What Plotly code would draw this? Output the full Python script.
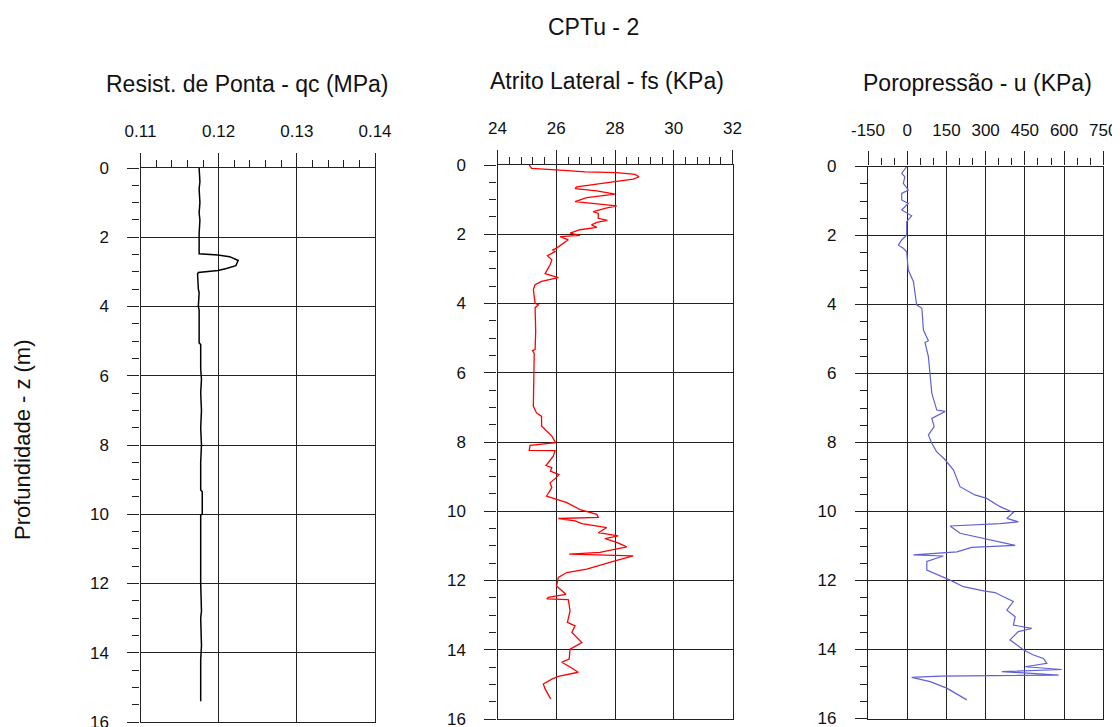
import plotly.graph_objects as go

# ---------------- data ----------------
qc_depth = [0.0, 0.4, 0.6, 1.0, 1.3, 1.5, 1.9, 2.48, 2.51, 2.56, 2.67, 2.82, 2.9, 2.96,
            3.02, 3.06, 3.5, 3.6, 4.0, 4.1, 5.05, 5.1, 5.8, 6.1, 6.5, 7.0, 7.5, 8.0, 8.5,
            9.3, 9.35, 10.0, 10.02, 11.0, 12.0, 12.8, 13.0, 13.8, 14.2, 15.0, 15.4]
qc_values = [0.1175, 0.1176, 0.1175, 0.1176, 0.1175, 0.1176, 0.1175, 0.1175, 0.1199, 0.1214,
             0.1225, 0.1222, 0.1210, 0.1199, 0.1174, 0.1173, 0.1174, 0.1175, 0.1174, 0.1175,
             0.1175, 0.1177, 0.1177, 0.1178, 0.1177, 0.1178, 0.1177, 0.1178, 0.1177, 0.1177,
             0.1179, 0.1179, 0.1177, 0.1177, 0.1177, 0.1178, 0.1177, 0.1178, 0.1177, 0.1177,
             0.1177]

fs_depth = [0.00, 0.10, 0.15, 0.20, 0.22, 0.27, 0.34, 0.41, 0.47, 0.63, 0.68, 0.75, 0.84,
            0.94, 1.06, 1.10, 1.18, 1.25, 1.35, 1.40, 1.54, 1.60, 1.66, 1.73, 1.80, 1.87,
            1.97, 2.03, 2.07, 2.16, 2.30, 2.40, 2.45, 2.50, 2.62, 2.74, 2.88, 3.14, 3.25,
            3.36, 3.46, 3.60, 3.99, 4.04, 4.12, 4.80, 5.33, 5.36, 5.45, 6.30, 6.97, 7.16,
            7.26, 7.54, 7.69, 7.83, 8.02, 8.10, 8.24, 8.25, 8.41, 8.68, 8.74, 8.84, 8.94,
            9.03, 9.18, 9.32, 9.56, 9.66, 9.75, 9.95, 10.09, 10.18, 10.21, 10.28, 10.36,
            10.47, 10.62, 10.71, 10.79, 10.90, 11.03, 11.19, 11.24, 11.29, 11.43, 11.67,
            11.77, 11.91, 12.16, 12.40, 12.49, 12.53, 12.55, 12.88, 13.21, 13.31, 13.50,
            13.79, 13.98, 14.27, 14.36, 14.50, 14.65, 14.77, 14.85, 14.99, 15.13, 15.42]
fs_values = [25.08, 25.16, 26.13, 26.98, 28.06, 28.68, 28.82, 28.62, 28.06, 26.70, 26.64,
             27.38, 28.00, 27.04, 26.64, 27.15, 28.06, 27.66, 27.26, 27.43, 27.43, 27.74,
             27.38, 27.20, 27.38, 26.81, 26.47, 26.81, 26.13, 26.41, 26.20, 26.01, 25.88,
             25.96, 25.70, 25.85, 25.79, 25.62, 26.07, 25.50, 25.28, 25.22, 25.28, 25.39,
             25.28, 25.30, 25.28, 25.19, 25.25, 25.22, 25.22, 25.33, 25.50, 25.50, 25.67,
             25.85, 25.98, 25.11, 25.08, 25.96, 25.90, 25.65, 25.85, 25.80, 26.09, 26.00,
             25.79, 25.85, 25.67, 26.01, 26.36, 26.81, 27.38, 27.43, 26.07, 26.64, 26.87,
             27.72, 27.43, 28.11, 27.66, 28.06, 28.40, 27.49, 26.44, 28.62, 28.00, 27.04,
             26.36, 26.07, 26.01, 26.33, 25.73, 25.68, 26.41, 26.47, 26.38, 26.64, 26.53,
             26.87, 26.47, 26.44, 26.19, 26.47, 26.75, 26.07, 25.85, 25.56, 25.62, 25.81]

u_depth = [0.00, 0.20, 0.30, 0.49, 0.68, 0.78, 0.97, 1.07, 1.26, 1.43, 1.60, 1.99, 2.13,
           2.28, 2.37, 2.47, 3.00, 3.14, 3.34, 3.68, 4.01, 4.11, 4.74, 5.05, 5.10, 5.51,
           6.09, 6.57, 7.06, 7.10, 7.30, 7.54, 7.78, 8.02, 8.27, 8.50, 8.80, 9.28, 9.52,
           9.62, 9.86, 10.03, 10.20, 10.30, 10.35, 10.42, 10.63, 10.78, 10.92, 10.98,
           11.04, 11.17, 11.26, 11.29, 11.45, 11.70, 11.99, 12.18, 12.30, 12.35, 12.47,
           12.61, 12.86, 13.05, 13.29, 13.39, 13.48, 13.72, 14.01, 14.16, 14.26, 14.40,
           14.50, 14.58, 14.64, 14.74, 14.77, 14.81, 14.93, 15.12, 15.46]
u_values = [-2, -21, -9, -15, 4, -21, -21, 4, -21, 17, -2, -2, -21, -34, -15, -2, 4, 11,
            24, 30, 36, 56, 62, 81, 68, 81, 88, 94, 113, 145, 94, 103, 81, 94, 113, 145,
            177, 202, 259, 304, 355, 406, 381, 425, 355, 164, 202, 298, 374, 413, 247,
            190, 24, 138, 75, 75, 164, 215, 292, 336, 368, 406, 381, 413, 406, 476, 425,
            393, 444, 483, 521, 534, 451, 591, 362, 579, 126, 17, 88, 151, 228]

qc_ticks = [0.11, 0.12, 0.13, 0.14]
qc_tick_text = ["0.11", "0.12", "0.13", "0.14"]
fs_ticks = [24, 26, 28, 30, 32]
fs_tick_text = ["24", "26", "28", "30", "32"]
u_ticks = [-150, 0, 150, 300, 450, 600, 750]
u_tick_text = ["-150", "0", "150", "300", "450", "600", "750"]
depth_ticks = [0, 2, 4, 6, 8, 10, 12, 14, 16]
depth_tick_text = ["0", "2", "4", "6", "8", "10", "12", "14", "16"]

main_title = "CPTu - 2"
panel_titles = ["Resist. de Ponta - qc (MPa)", "Atrito Lateral - fs (KPa)", "Poropressão - u (KPa)"]
depth_title = "Profundidade - z (m)"

# ---------------- figure ----------------
# the page body has an 8 px margin, so the figure is drawn 8 px smaller and offset
OFF = 8
W, H = 1120 - OFF, 727 - OFF
LINE = "#222222"
TXT = "#111111"
TICKFONT = dict(family="Liberation Sans, Arial, sans-serif", size=17, color=TXT)
TITLEFONT = dict(family="Liberation Sans, Arial, sans-serif", size=23, color=TXT)
YTITLEFONT = dict(family="Liberation Sans, Arial, sans-serif", size=22, color=TXT)

fig = go.Figure()
fig.add_trace(go.Scatter(x=qc_values, y=qc_depth, mode="lines", line=dict(color="black", width=1.5),
                         xaxis="x", yaxis="y", showlegend=False))
fig.add_trace(go.Scatter(x=fs_values, y=fs_depth, mode="lines", line=dict(color="#FF0000", width=1.3),
                         xaxis="x2", yaxis="y2", showlegend=False))
fig.add_trace(go.Scatter(x=u_values, y=u_depth, mode="lines", line=dict(color="#6060D8", width=1.2),
                         xaxis="x3", yaxis="y3", showlegend=False))

def px_x(p):
    return (p - OFF) / W

def px_y(p):
    return 1 - (p - OFF) / H

panels = [
    ((140.5, 375.0), (168.0, 722.0), [0.11, 0.14], qc_ticks, qc_tick_text, 0.002, 0.11),
    ((497.5, 732.5), (165.0, 719.0), [24, 32], fs_ticks, fs_tick_text, 0.4, 24),
    ((868.0, 1103.3), (166.5, 718.5), [-150, 750], u_ticks, u_tick_text, 50, -150),
]

layout = dict(
    width=W, height=H,
    margin=dict(l=0, r=0, t=0, b=0, pad=0, autoexpand=False),
    paper_bgcolor="white", plot_bgcolor="white",
    showlegend=False,
)

for i, (xd, yd, xr, tv, tt, mdt, m0) in enumerate(panels):
    sx = "" if i == 0 else str(i + 1)
    layout["xaxis" + sx] = dict(
        domain=[px_x(xd[0]), px_x(xd[1])],
        range=xr, autorange=False, side="top", anchor="y" + sx, automargin=False,
        tickvals=tv, ticktext=tt, ticks="outside", ticklen=14, tickwidth=1.4, tickcolor=LINE,
        ticklabelstandoff=9, ticklabeloverflow="allow",
        minor=dict(ticks="outside", ticklen=7, tickwidth=1.2, tickcolor=LINE, dtick=mdt, tick0=m0, showgrid=False),
        showgrid=True, gridcolor=LINE, gridwidth=1.3,
        showline=True, linecolor=LINE, linewidth=1.4, mirror=True,
        zeroline=False, tickfont=TICKFONT, fixedrange=True,
    )
    layout["yaxis" + sx] = dict(
        domain=[px_y(yd[1]), px_y(yd[0])],
        range=[16, 0], autorange=False, anchor="x" + sx, automargin=False,
        tickvals=depth_ticks, ticktext=depth_tick_text,
        ticks="outside", ticklen=12, tickwidth=1.4, tickcolor=LINE,
        ticklabelstandoff=15, ticklabeloverflow="allow",
        minor=dict(ticks="outside", ticklen=7, tickwidth=1.2, tickcolor=LINE, dtick=0.5, tick0=0, showgrid=False),
        showgrid=True, gridcolor=LINE, gridwidth=1.3,
        showline=True, linecolor=LINE, linewidth=1.4, mirror=True,
        zeroline=False, tickfont=TICKFONT, fixedrange=True,
    )

annotations = [
    dict(text=main_title, x=px_x(593), y=px_y(27), xref="paper", yref="paper",
         showarrow=False, xanchor="center", yanchor="middle", font=TITLEFONT),
    dict(text=panel_titles[0], x=px_x(247), y=px_y(84), xref="paper", yref="paper",
         showarrow=False, xanchor="center", yanchor="middle", font=TITLEFONT),
    dict(text=panel_titles[1], x=px_x(606.5), y=px_y(81), xref="paper", yref="paper",
         showarrow=False, xanchor="center", yanchor="middle", font=TITLEFONT),
    dict(text=panel_titles[2], x=px_x(977), y=px_y(83), xref="paper", yref="paper",
         showarrow=False, xanchor="center", yanchor="middle", font=TITLEFONT),
    dict(text=depth_title, x=px_x(22), y=px_y(440), xref="paper", yref="paper", textangle=-90,
         showarrow=False, xanchor="center", yanchor="middle", font=YTITLEFONT),
]
layout["annotations"] = annotations

fig.update_layout(**layout)
fig.write_html("out.html")
